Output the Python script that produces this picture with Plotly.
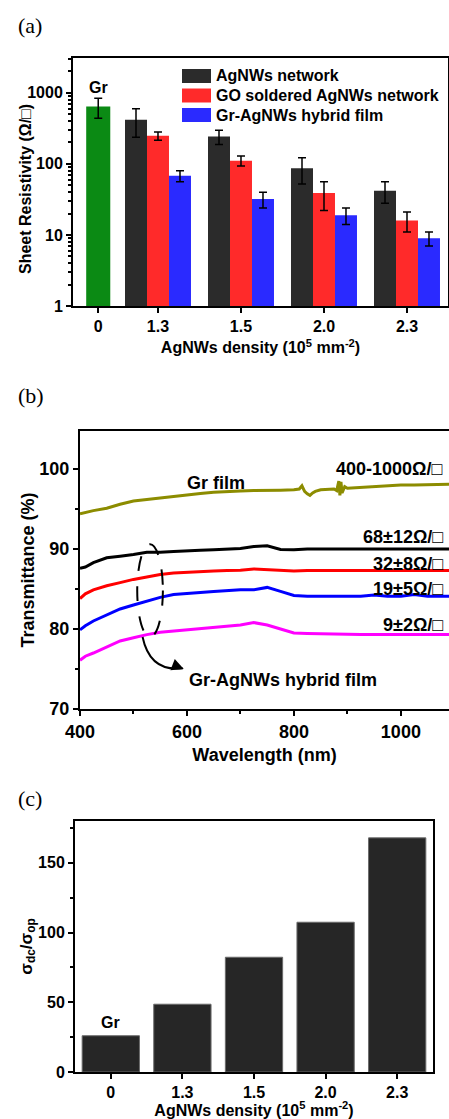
import plotly.graph_objects as go

W, H = 449, 1119

# ---------------- Panel (a): sheet resistivity ----------------
density_labels = ["0", "1.3", "1.5", "2.0", "2.3"]
gr_label = "Gr"
gr_rs = [640]
gr_rs_err = [200]
series_names = ["AgNWs network", "GO soldered AgNWs network", "Gr-AgNWs hybrid film"]
agnw_rs = [417, 243, 87, 42]
agnw_rs_err = [180, 55, 35, 14]
go_rs = [248, 111, 39, 16]
go_rs_err = [33, 18, 17, 5]
hyb_rs = [68, 32, 19, 9]
hyb_rs_err = [12, 8, 5, 2]

# ---------------- Panel (b): transmittance spectra ----------------
wl_gr = [400, 425, 450, 475, 500, 525, 550, 575, 600, 625, 650, 675, 700, 725, 750, 775,
         800, 810, 815, 820, 825, 830, 835, 840, 850, 875, 880, 884, 886, 888, 890, 895,
         900, 925, 950, 975, 1000, 1025, 1050, 1075, 1090]
t_gr = [94.4, 94.8, 95.1, 95.6, 96.0, 96.2, 96.4, 96.6, 96.8, 96.95, 97.1, 97.2, 97.25, 97.3,
        97.3, 97.35, 97.4, 97.5, 97.9, 97.2, 96.9, 96.7, 97.0, 97.2, 97.4, 97.5, 97.3, 98.5,
        96.7, 98.4, 97.0, 97.8, 97.6, 97.7, 97.8, 97.9, 98.0, 98.0, 98.05, 98.1, 98.1]
wl = [400, 410, 425, 450, 475, 500, 525, 550, 575, 600, 625, 650, 675, 700, 725, 750, 775,
      800, 825, 850, 875, 900, 925, 950, 975, 1000, 1025, 1050, 1075, 1090]
t_68 = [87.6, 87.75, 88.3, 88.9, 89.1, 89.3, 89.6, 89.6, 89.7, 89.8, 89.85, 89.9, 89.95, 90.05,
        90.3, 90.4, 89.95, 89.9, 90.0, 90.0, 90.0, 90.0, 90.0, 90.0, 90.0, 90.0, 90.0, 90.0,
        90.0, 90.0]
t_32 = [83.8, 84.4, 84.9, 85.4, 85.8, 86.2, 86.5, 86.8, 87.0, 87.1, 87.2, 87.25, 87.3, 87.35,
        87.5, 87.4, 87.3, 87.25, 87.3, 87.3, 87.3, 87.35, 87.3, 87.3, 87.3, 87.3, 87.35, 87.3,
        87.3, 87.3]
t_19 = [79.9, 80.4, 81.0, 81.8, 82.5, 83.0, 83.5, 83.95, 84.3, 84.4, 84.55, 84.7, 84.8, 84.9,
        84.9, 85.2, 84.7, 84.2, 84.1, 84.1, 84.1, 84.1, 84.1, 84.25, 84.1, 84.1, 84.3, 84.1,
        84.1, 84.1]
t_9 = [76.1, 76.6, 77.0, 77.8, 78.5, 78.9, 79.3, 79.6, 79.75, 79.9, 80.05, 80.2, 80.35, 80.5,
       80.8, 80.5, 80.0, 79.5, 79.45, 79.4, 79.35, 79.3, 79.3, 79.3, 79.3, 79.3, 79.3, 79.3,
       79.3, 79.3]
curve_labels = ["400-1000Ω/□", "68±12Ω/□", "32±8Ω/□", "19±5Ω/□", "9±2Ω/□"]

# ---------------- Panel (c): figure of merit ----------------
ratio = [26, 48.6, 82.3, 107.4, 167.9]

# ---------------- layout helpers ----------------
FONT = "Liberation Sans, Arial, sans-serif"
SERIF = "Liberation Serif, Times New Roman, serif"


def px(x):
    return x / W


def py(y):
    return 1 - y / H


fig = go.Figure()

# ---- panel (a) traces ----
pos = [0.28, 1, 2, 3, 4]
bw = 0.265
fig.add_trace(go.Bar(
    x=[pos[0]], y=gr_rs, width=0.29, offset=-0.145, marker_color="#0b8a14",
    marker_line_width=0,
    error_y=dict(type="data", array=gr_rs_err, color="black", thickness=1.5, width=4),
    showlegend=False, xaxis="x", yaxis="y", name=gr_label))
colors_a = ["#2b2b2b", "#ff2a2a", "#2a2aff"]
vals_a = [agnw_rs, go_rs, hyb_rs]
errs_a = [agnw_rs_err, go_rs_err, hyb_rs_err]
for i in range(3):
    fig.add_trace(go.Bar(
        x=pos[1:], y=vals_a[i], width=bw, offset=-1.5 * bw + i * bw,
        marker_color=colors_a[i], marker_line_width=0, name=series_names[i],
        error_y=dict(type="data", array=errs_a[i], color="black", thickness=1.5, width=4),
        showlegend=False, xaxis="x", yaxis="y"))

# ---- panel (b) traces ----
curves = [(wl_gr, t_gr, "#8c8c00"), (wl, t_68, "#000000"), (wl, t_32, "#ff0000"),
          (wl, t_19, "#0000ff"), (wl, t_9, "#ff00ff")]
for xs, ys, c in curves:
    fig.add_trace(go.Scatter(x=xs, y=ys, mode="lines", line=dict(color=c, width=3),
                             showlegend=False, xaxis="x2", yaxis="y2"))

# ---- panel (c) traces ----
fig.add_trace(go.Bar(x=density_labels, y=ratio, width=0.8, marker_color="#262626",
                     marker_line=dict(color="#6a6a6a", width=1), showlegend=False,
                     xaxis="x3", yaxis="y3"))

tickfont16 = dict(family=FONT, size=16, color="black", weight="bold")
tickfont18 = dict(family=FONT, size=18, color="black", weight="bold")
axis_common = dict(showline=True, linecolor="black", linewidth=2, ticks="outside",
                   tickcolor="black", tickwidth=2, showgrid=False, zeroline=False, mirror=True,
                   automargin=False)

fig.update_layout(
    width=W, height=H, margin=dict(l=0, r=0, t=0, b=0, autoexpand=False),
    paper_bgcolor="white", plot_bgcolor="white", barmode="overlay",
    font=dict(family=FONT, color="black"), showlegend=False,
    xaxis=dict(domain=[px(73), px(448)], anchor="y", range=[-0.024, 4.494],
               tickvals=pos, ticktext=density_labels, ticklen=5, tickfont=tickfont16,
               title=dict(text="AgNWs density (10<sup>5</sup> mm<sup>-2</sup>)",
                          font=dict(family=FONT, size=16, weight="bold"), standoff=8),
               **axis_common),
    yaxis=dict(domain=[py(306), py(58)], anchor="x", type="log", range=[0, 3.49],
               tickvals=[1, 10, 100, 1000], ticktext=["1", "10", "100", "1000"], ticklen=5,
               tickfont=tickfont16,
               minor=dict(ticks="outside", ticklen=3, tickwidth=1.5, tickcolor="black",
                          dtick="D1", showgrid=False),
               **axis_common),
    xaxis2=dict(domain=[px(80), 1.0], anchor="y2", range=[400, 1090],
                tickvals=[400, 600, 800, 1000], ticklen=5, tickfont=tickfont18,
                minor=dict(ticks="outside", ticklen=3, tickwidth=1.5, tickcolor="black",
                           dtick=100),
                title=dict(text="Wavelength (nm)",
                           font=dict(family=FONT, size=18, weight="bold"), standoff=8),
                **axis_common),
    yaxis2=dict(domain=[py(709), py(431)], anchor="x2", range=[70, 104.75],
                tickvals=[70, 80, 90, 100], ticklen=5, tickfont=tickfont18,
                minor=dict(ticks="outside", ticklen=3, tickwidth=1.5, tickcolor="black",
                           dtick=5),
                title=dict(text="Transmittance (%)",
                           font=dict(family=FONT, size=18, weight="bold"), standoff=0),
                showline=True, linecolor="black", linewidth=2, ticks="outside",
                tickcolor="black", tickwidth=2, showgrid=False, zeroline=False, mirror=False,
                automargin=False),
    xaxis3=dict(domain=[px(75), px(433)], anchor="y3", type="category", range=[-0.5, 4.5],
                ticklen=5, tickfont=tickfont16,
                title=dict(text="AgNWs density (10<sup>5</sup> mm<sup>-2</sup>)",
                           font=dict(family=FONT, size=16, weight="bold"), standoff=6),
                **axis_common),
    yaxis3=dict(domain=[py(1072), py(821)], anchor="x3", range=[0, 180],
                tickvals=[0, 50, 100, 150], ticklen=5, tickfont=tickfont16,
                minor=dict(ticks="outside", ticklen=3, tickwidth=1.5, tickcolor="black",
                           dtick=25),
                title=dict(text="σ<sub>dc</sub>/σ<sub>op</sub>",
                           font=dict(family=FONT, size=17, weight="bold"), standoff=0),
                **axis_common),
)

ann = []
# panel letters
for txt, yy in [("(a)", 25), ("(b)", 395), ("(c)", 798)]:
    ann.append(dict(text=txt, x=px(16), y=py(yy), xref="paper", yref="paper",
                    xanchor="left", yanchor="middle", showarrow=False,
                    font=dict(family=SERIF, size=22, color="black")))
# y title of panel (a), placed close to its tick labels as in the reference
ann.append(dict(text="Sheet Resistivity (Ω/□)", x=px(25), y=py(189), xref="paper",
                yref="paper", textangle=-90, xanchor="center", yanchor="middle",
                showarrow=False, font=dict(family=FONT, size=16, weight="bold", color="black")))
# legend for panel (a) (swatches + names)
lfont = dict(family=FONT, size=16, weight="bold", color="black")
for i, yc in enumerate([76, 95.5, 115]):
    fig.add_shape(type="rect", xref="paper", yref="paper", x0=px(182), x1=px(211),
                  y0=py(yc + 7), y1=py(yc - 7), fillcolor=colors_a[i], line_width=0)
    ann.append(dict(text=series_names[i], x=px(214), y=py(yc), xref="paper", yref="paper",
                    xanchor="left", yanchor="middle", showarrow=False, font=lfont))
# Gr labels
ann.append(dict(text=gr_label, x=pos[0], y=3.07, xref="x", yref="y", showarrow=False,
                yanchor="middle", font=dict(family=FONT, size=16, weight="bold", color="black")))
ann.append(dict(text=gr_label, x=density_labels[0], y=35.5, xref="x3", yref="y3",
                showarrow=False, yanchor="middle",
                font=dict(family=FONT, size=16, weight="bold", color="black")))
# panel (b) labels
bfont = dict(family=FONT, size=18, weight="bold", color="black")
ann.append(dict(text="Gr film", x=654, y=98.25, xref="x2", yref="y2", showarrow=False,
                font=bfont))
for txt, yy in zip(curve_labels, [100.0, 91.5, 88.1, 85.0, 80.5]):
    ann.append(dict(text=txt, x=1083, y=yy, xref="x2", yref="y2", showarrow=False,
                    xanchor="right", font=bfont))
ann.append(dict(text="Gr-AgNWs hybrid film", x=600, y=73.6, xref="x2", yref="y2",
                showarrow=False, xanchor="left", font=bfont))
ann.append(dict(text="", x=594, y=75.0, ax=575, ay=75.5, xref="x2", yref="y2",
                axref="x2", ayref="y2", showarrow=True, arrowhead=2, arrowsize=1.2,
                arrowwidth=2, arrowcolor="black"))
fig.update_layout(annotations=ann)

fig.add_shape(type="circle", xref="x2", yref="y2", x0=507, x1=555, y0=79.0, y1=90.6,
              line=dict(color="black", width=2, dash="longdash"))
fig.add_shape(type="path", xref="x2", yref="y2", path="M 517,79 Q 531,74.6 592,75.1",
              line=dict(color="black", width=2))

fig.write_html("out.html", config={"displayModeBar": False},
               post_script="document.body.style.margin='0';"
                           "document.body.style.overflow='hidden';")
